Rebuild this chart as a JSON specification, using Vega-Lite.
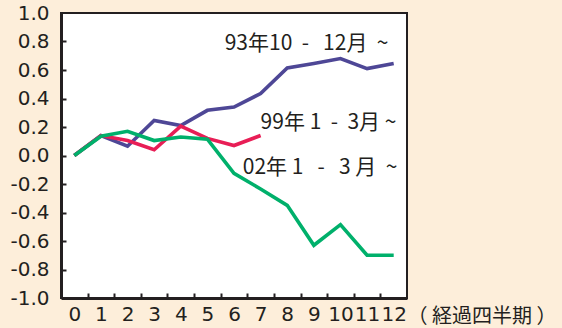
{
  "$schema": "https://vega.github.io/schema/vega-lite/v6.json",
  "width": 346,
  "height": 285,
  "autosize": "none",
  "padding": {"left": 61, "top": 13, "right": 155, "bottom": 30},
  "background": "#FDEEDA",
  "config": {
    "view": {"fill": "white", "stroke": "#231F20", "strokeWidth": 2},
    "axis": {"labelFont": "DejaVu Sans", "labelFontSize": 20}
  },
  "datasets": {
    "series": [
      {"series": "93", "q": 0, "v": 0.0},
      {"series": "93", "q": 1, "v": 0.14},
      {"series": "93", "q": 2, "v": 0.065},
      {"series": "93", "q": 3, "v": 0.246},
      {"series": "93", "q": 4, "v": 0.21},
      {"series": "93", "q": 5, "v": 0.317},
      {"series": "93", "q": 6, "v": 0.34},
      {"series": "93", "q": 7, "v": 0.435},
      {"series": "93", "q": 8, "v": 0.615},
      {"series": "93", "q": 9, "v": 0.646},
      {"series": "93", "q": 10, "v": 0.68},
      {"series": "93", "q": 11, "v": 0.61},
      {"series": "93", "q": 12, "v": 0.646},
      {"series": "99", "q": 0, "v": 0.0},
      {"series": "99", "q": 1, "v": 0.14},
      {"series": "99", "q": 2, "v": 0.105},
      {"series": "99", "q": 3, "v": 0.04},
      {"series": "99", "q": 4, "v": 0.206},
      {"series": "99", "q": 5, "v": 0.12},
      {"series": "99", "q": 6, "v": 0.07},
      {"series": "99", "q": 7, "v": 0.14},
      {"series": "02", "q": 0, "v": 0.0},
      {"series": "02", "q": 1, "v": 0.135},
      {"series": "02", "q": 2, "v": 0.17},
      {"series": "02", "q": 3, "v": 0.105},
      {"series": "02", "q": 4, "v": 0.13},
      {"series": "02", "q": 5, "v": 0.115},
      {"series": "02", "q": 6, "v": -0.125},
      {"series": "02", "q": 7, "v": -0.235},
      {"series": "02", "q": 8, "v": -0.35},
      {"series": "02", "q": 9, "v": -0.63},
      {"series": "02", "q": 10, "v": -0.485},
      {"series": "02", "q": 11, "v": -0.70},
      {"series": "02", "q": 12, "v": -0.70}
    ],
    "labels": [
      {"text": "93年10\u00a0\u00a0-\u00a0\u00a0\u00a012月\u00a0\u00a0~", "q": 5.65, "v": 0.785},
      {"text": "99年\u00a01\u00a0\u00a0-\u00a0\u00a03月\u00a0~", "q": 7.0, "v": 0.225},
      {"text": "02年\u00a01\u00a0\u00a0\u00a0-\u00a0\u00a0\u00a03\u00a0月\u00a0\u00a0~", "q": 6.33, "v": -0.09}
    ]
  },
  "resolve": {"axis": {"x": "independent", "y": "independent"}},
  "layer": [
    {
      "data": {"name": "series"},
      "mark": {"type": "line", "strokeWidth": 3.6},
      "encoding": {
        "x": {
          "field": "q",
          "type": "quantitative",
          "scale": {"domain": [-0.5, 12.5], "nice": false, "zero": false},
          "axis": {
            "orient": "bottom",
            "values": [0, 1, 2, 3, 4, 5, 6, 7, 8, 9, 10, 11, 12],
            "ticks": false,
            "grid": false,
            "domain": true,
            "domainColor": "#231F20",
            "domainWidth": 3,
            "labelFont": "DejaVu Sans",
            "labelFontSize": 20,
            "labelColor": "#231F20",
            "labelPadding": 6,
            "labelFlush": false,
            "labelOverlap": false,
            "title": "（ 経過四半期 ）",
            "titleFont": "Noto Sans CJK JP",
            "titleFontSize": 20,
            "titleFontWeight": "normal",
            "titleColor": "#231F20",
            "titleAlign": "left",
            "titleAnchor": null,
            "titleBaseline": "middle",
            "titleX": 346,
            "titleY": 18
          }
        },
        "y": {
          "field": "v",
          "type": "quantitative",
          "scale": {"domain": [-1, 1], "nice": false, "zero": false},
          "axis": {
            "orient": "left",
            "values": [-1, -0.8, -0.6, -0.4, -0.2, 0, 0.2, 0.4, 0.6, 0.8, 1],
            "labelExpr": "replace(format(datum.value, '.1f'), '−', '-')",
            "ticks": false,
            "grid": false,
            "domain": true,
            "domainColor": "#231F20",
            "domainWidth": 3,
            "labelFont": "DejaVu Sans",
            "labelFontSize": 20,
            "labelColor": "#231F20",
            "labelPadding": 12,
            "labelFlush": false,
            "labelOverlap": false,
            "title": null
          }
        },
        "color": {
          "field": "series",
          "type": "nominal",
          "sort": ["93", "99", "02"],
          "scale": {"domain": ["93", "99", "02"], "range": ["#4E4796", "#E81E56", "#00B06B"]},
          "legend": null
        }
      }
    },
    {
      "data": {"name": "labels"},
      "mark": {"type": "text", "align": "left", "baseline": "middle", "font": "Noto Sans CJK JP", "fontSize": 21, "color": "#231F20"},
      "encoding": {
        "x": {
          "field": "q",
          "type": "quantitative",
          "axis": {
            "orient": "bottom",
            "values": [0.5, 1.5, 2.5, 3.5, 4.5, 5.5, 6.5, 7.5, 8.5, 9.5, 10.5, 11.5],
            "labels": false,
            "domain": false,
            "grid": false,
            "ticks": true,
            "tickSize": -5,
            "tickWidth": 2,
            "tickColor": "#231F20",
            "title": null
          }
        },
        "y": {
          "field": "v",
          "type": "quantitative",
          "axis": {
            "orient": "left",
            "values": [-0.8, -0.6, -0.4, -0.2, 0, 0.2, 0.4, 0.6, 0.8],
            "labels": false,
            "domain": false,
            "grid": false,
            "ticks": true,
            "tickSize": -5,
            "tickWidth": 2,
            "tickColor": "#231F20",
            "title": null
          }
        },
        "text": {"field": "text"}
      }
    }
  ]
}
